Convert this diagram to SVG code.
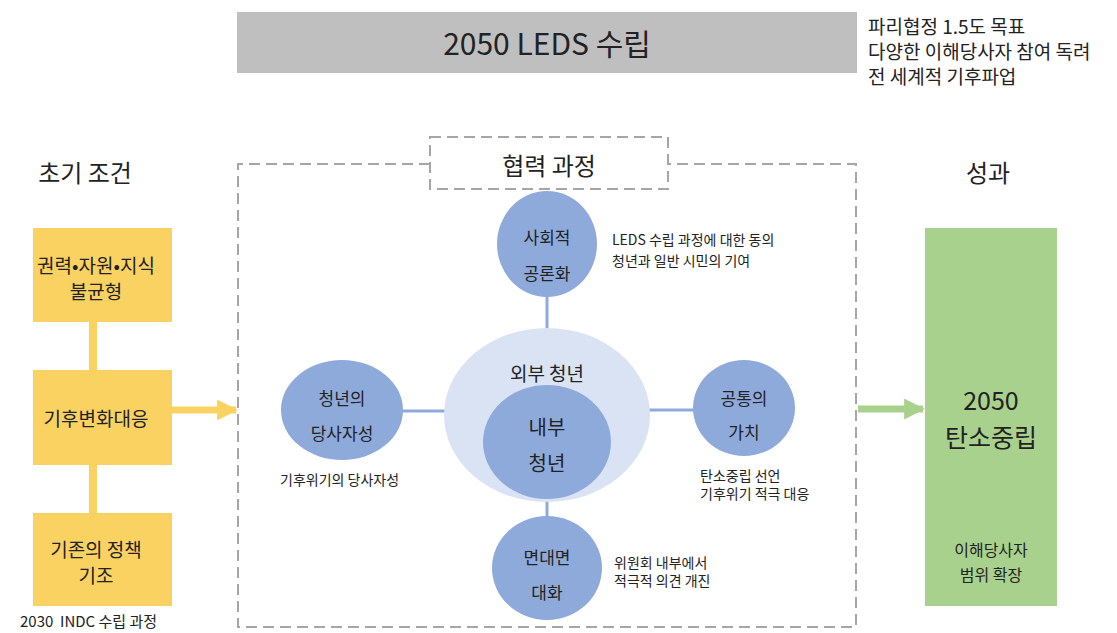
<svg xmlns="http://www.w3.org/2000/svg" width="1117" height="633" viewBox="0 0 1117 633">
  <defs>
    <style>
      text { font-family: "Noto Sans CJK KR", "Noto Sans", sans-serif; fill: #222; }
      .c { text-anchor: middle; dominant-baseline: central; }
      .dash { fill: none; stroke: #a6a6a6; stroke-width: 2; stroke-dasharray: 11 6; }
      .ybox { fill: #f9d262; }
      .gbox { fill: #a9d18e; }
      .node { fill: #8eaadb; }
      .link { stroke: #8eaadb; stroke-width: 3; }
      .note { font-size: 14px; }
      .lbl { font-size: 17px; }
    </style>
    <marker id="arrowY" viewBox="0 0 10 10" refX="9" refY="5" markerWidth="3" markerHeight="3" orient="auto" markerUnits="strokeWidth">
      <path d="M0,0 L10,5 L0,10 z" fill="#f9d262"/>
    </marker>
    <marker id="arrowG" viewBox="0 0 10 10" refX="9" refY="5" markerWidth="3" markerHeight="3" orient="auto" markerUnits="strokeWidth">
      <path d="M0,0 L10,5 L0,10 z" fill="#a9d18e"/>
    </marker>
  </defs>
  <rect width="1117" height="633" fill="#ffffff"/>

  <!-- header -->
  <g id="header">
    <rect x="237" y="12" width="620" height="61" fill="#bfbfbf"/>
    <text class="c" x="547" y="42" font-size="30">2050 LEDS 수립</text>
  </g>
  <g id="context">
    <text x="868" y="34" font-size="19">파리협정 1.5도 목표</text>
    <text x="868" y="59" font-size="19">다양한 이해당사자 참여 독려</text>
    <text x="868" y="84" font-size="19">전 세계적 기후파업</text>
  </g>

  <!-- section titles -->
  <text class="c" x="85" y="171" font-size="24">초기 조건</text>
  <text class="c" x="988" y="171" font-size="24">성과</text>

  <!-- connectors -->
  <g id="connectors">
    <line x1="93" y1="322" x2="93" y2="370" stroke="#f9d262" stroke-width="8"/>
    <line x1="93" y1="465" x2="93" y2="513" stroke="#f9d262" stroke-width="8"/>
    <line x1="172" y1="410" x2="236" y2="410" stroke="#f9d262" stroke-width="7" marker-end="url(#arrowY)"/>
    <line x1="858" y1="409" x2="923" y2="409" stroke="#a9d18e" stroke-width="7" marker-end="url(#arrowG)"/>
    <line class="link" x1="547" y1="296" x2="547" y2="332"/>
    <line class="link" x1="547" y1="498" x2="547" y2="518"/>
    <line class="link" x1="401" y1="411" x2="446" y2="411"/>
    <line class="link" x1="648" y1="410" x2="694" y2="410"/>
  </g>

  <!-- initial conditions -->
  <g id="cond-imbalance">
    <rect class="ybox" x="33" y="228" width="139" height="94"/>
    <text class="c" x="96" y="264" font-size="19">권력•자원•지식</text>
    <text class="c" x="96" y="290" font-size="19">불균형</text>
  </g>
  <g id="cond-response">
    <rect class="ybox" x="33" y="370" width="139" height="95"/>
    <text class="c" x="96" y="417" font-size="19">기후변화대응</text>
  </g>
  <g id="cond-policy">
    <rect class="ybox" x="33" y="513" width="139" height="93"/>
    <text class="c" x="96" y="548" font-size="19">기존의 정책</text>
    <text class="c" x="96" y="574" font-size="19">기조</text>
  </g>
  <text x="20" y="627" font-size="15">2030&#160; INDC 수립 과정</text>

  <!-- collaboration process frame -->
  <g id="process-frame">
    <path class="dash" d="M430,164 H238 V627 H856 V164 H668"/>
    <rect class="dash" x="430" y="137" width="238" height="52"/>
    <text class="c" x="549" y="164" font-size="24">협력 과정</text>
  </g>

  <g id="youth">
    <ellipse cx="547" cy="415" rx="103" ry="87" fill="#dae3f3"/>
    <text class="c" x="547" y="372" font-size="19">외부 청년</text>
    <ellipse class="node" cx="547" cy="442" rx="64" ry="57"/>
    <text class="c" x="547" y="426" font-size="20">내부</text>
    <text class="c" x="547" y="462" font-size="20">청년</text>
  </g>

  <g id="node-public">
    <ellipse class="node" cx="547" cy="244" rx="50" ry="53"/>
    <text class="c lbl" x="547" y="236">사회적</text>
    <text class="c lbl" x="547" y="272">공론화</text>
    <text class="note" x="612" y="245">LEDS 수립 과정에 대한 동의</text>
    <text class="note" x="612" y="266">청년과 일반 시민의 기여</text>
  </g>

  <g id="node-ownership">
    <ellipse class="node" cx="342" cy="410" rx="61" ry="50"/>
    <text class="c lbl" x="342" y="397">청년의</text>
    <text class="c lbl" x="342" y="432">당사자성</text>
    <text class="note" x="280" y="485">기후위기의 당사자성</text>
  </g>

  <g id="node-values">
    <ellipse class="node" cx="744" cy="408" rx="51" ry="48"/>
    <text class="c lbl" x="744" y="397">공통의</text>
    <text class="c lbl" x="744" y="431">가치</text>
    <text class="note" x="700" y="481">탄소중립 선언</text>
    <text class="note" x="700" y="499">기후위기 적극 대응</text>
  </g>

  <g id="node-dialogue">
    <ellipse class="node" cx="547" cy="568" rx="55" ry="52"/>
    <text class="c lbl" x="547" y="556">면대면</text>
    <text class="c lbl" x="547" y="591">대화</text>
    <text class="note" x="614" y="568">위원회 내부에서</text>
    <text class="note" x="614" y="586">적극적 의견 개진</text>
  </g>

  <!-- outcome -->
  <g id="outcome">
    <rect class="gbox" x="925" y="228" width="132" height="378"/>
    <text class="c" x="991" y="399" font-size="25">2050</text>
    <text class="c" x="991" y="436" font-size="25">탄소중립</text>
    <text class="c" x="991" y="549" font-size="16">이해당사자</text>
    <text class="c" x="991" y="574" font-size="16">범위 확장</text>
  </g>
</svg>
